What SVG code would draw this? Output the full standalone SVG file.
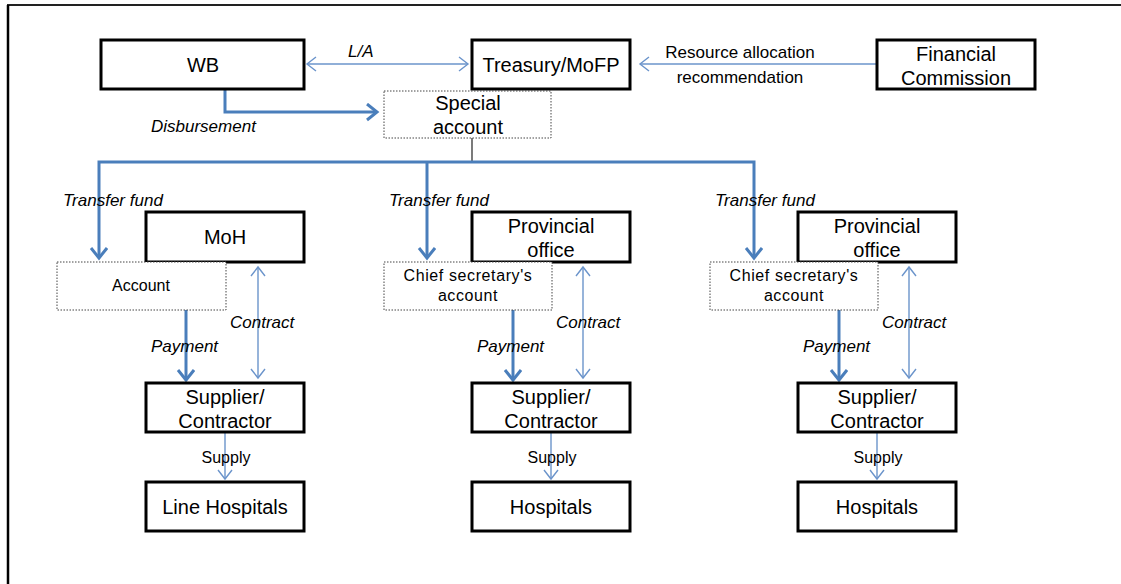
<svg xmlns="http://www.w3.org/2000/svg" width="1121" height="584" viewBox="0 0 1121 584">
<style>
.box{fill:#fff;stroke:#000;stroke-width:3}
.dot{fill:#fff;stroke:#444;stroke-width:1;stroke-dasharray:1.5 1.5}
.t{font-family:"Liberation Sans",Arial,sans-serif;font-size:20px;fill:#000;text-anchor:middle}
.s{font-family:"Liberation Sans",Arial,sans-serif;font-size:16px;fill:#000;text-anchor:middle}
.w{letter-spacing:0.6px}
.r{font-family:"Liberation Sans",Arial,sans-serif;font-size:17px;fill:#000;text-anchor:middle}
.i{font-family:"Liberation Sans",Arial,sans-serif;font-size:17px;font-style:italic;fill:#000}
.thick{fill:none;stroke:#4a7ebb;stroke-width:3;marker-end:url(#ahk)}
.thin{fill:none;stroke:#6b94cb;stroke-width:1.4;marker-end:url(#ahn)}
.both{fill:none;stroke:#6b94cb;stroke-width:1.4;marker-end:url(#ahn);marker-start:url(#ahn)}
</style>
<defs>
<marker id="ahk" markerUnits="userSpaceOnUse" markerWidth="24" markerHeight="24" refX="11" refY="9" orient="auto-start-reverse">
<path d="M1,1 L11,9 L1,17" fill="none" stroke="#4a7ebb" stroke-width="3"/>
</marker>
<marker id="ahn" markerUnits="userSpaceOnUse" markerWidth="24" markerHeight="24" refX="10" refY="8" orient="auto-start-reverse">
<path d="M1,1 L10,8 L1,15" fill="none" stroke="#6b94cb" stroke-width="1.4"/>
</marker>
</defs>
<rect width="1121" height="584" fill="#fff"/>
<g id="frame">
<line x1="7" y1="5" x2="1121" y2="5" stroke="#222" stroke-width="2"/>
<line x1="8" y1="5" x2="8" y2="584" stroke="#000" stroke-width="2.5"/>
</g>
<g id="connectors">
<line class="both" x1="307" y1="64" x2="468" y2="64"/>
<line class="thin" x1="877" y1="64" x2="640" y2="64"/>
<path class="thick" d="M225,89 V112 H377"/>
<line x1="472" y1="138" x2="472" y2="162" stroke="#333" stroke-width="1.3"/>
<path class="thick" d="M754,258 V162 H99 V258" marker-start="url(#ahk)"/>
<line class="thick" x1="427" y1="162" x2="427" y2="258"/>
<line class="thick" x1="186" y1="310" x2="186" y2="380"/>
<line class="thick" x1="513" y1="310" x2="513" y2="380"/>
<line class="thick" x1="839" y1="310" x2="839" y2="380"/>
<line class="both" x1="258" y1="267" x2="258" y2="378"/>
<line class="both" x1="583" y1="267" x2="583" y2="378"/>
<line class="both" x1="909" y1="267" x2="909" y2="378"/>
<line class="thin" x1="225" y1="432" x2="225" y2="479"/>
<line class="thin" x1="551" y1="432" x2="551" y2="479"/>
<line class="thin" x1="877" y1="432" x2="877" y2="479"/>
<text class="i" x="348" y="57">L/A</text>
<text class="r" x="740" y="58">Resource allocation</text>
<text class="r" x="740" y="83">recommendation</text>
<text class="i" x="151" y="132">Disbursement</text>
<text class="i" x="63" y="206">Transfer fund</text>
<text class="i" x="389" y="206">Transfer fund</text>
<text class="i" x="715" y="206">Transfer fund</text>
<text class="i" x="230" y="328">Contract</text>
<text class="i" x="556" y="328">Contract</text>
<text class="i" x="882" y="328">Contract</text>
<text class="i" x="151" y="352">Payment</text>
<text class="i" x="477" y="352">Payment</text>
<text class="i" x="803" y="352">Payment</text>
<text class="s" x="226" y="463">Supply</text>
<text class="s" x="552" y="463">Supply</text>
<text class="s" x="878" y="463">Supply</text>
</g>
<g id="wb"><rect class="box" x="101" y="40" width="203" height="49"/><text class="t" x="203" y="72">WB</text></g>
<g id="treasury"><rect class="box" x="472" y="40" width="158" height="49"/><text class="t" x="551" y="72">Treasury/MoFP</text></g>
<g id="fincom"><rect class="box" x="877" y="40" width="158" height="49"/><text class="t" x="956" y="61">Financial</text><text class="t" x="956" y="85">Commission</text></g>
<g id="special"><rect class="dot" x="384" y="91" width="167" height="47"/><text class="t" x="468" y="110">Special</text><text class="t" x="468" y="134">account</text></g>
<g id="moh"><rect class="box" x="146" y="212" width="158" height="50"/><text class="t" x="225" y="244">MoH</text></g>
<g id="account1"><rect class="dot" x="57" y="262" width="169" height="48"/><text class="s" x="141" y="291">Account</text></g>
<g id="prov2"><rect class="box" x="472" y="212" width="158" height="50"/><text class="t" x="551" y="233">Provincial</text><text class="t" x="551" y="257">office</text></g>
<g id="chief2"><rect class="dot" x="384" y="262" width="168" height="48"/><text class="s w" x="468" y="281">Chief secretary's</text><text class="s w" x="468" y="301">account</text></g>
<g id="prov3"><rect class="box" x="798" y="212" width="158" height="50"/><text class="t" x="877" y="233">Provincial</text><text class="t" x="877" y="257">office</text></g>
<g id="chief3"><rect class="dot" x="710" y="262" width="168" height="48"/><text class="s w" x="794" y="281">Chief secretary's</text><text class="s w" x="794" y="301">account</text></g>
<g id="sup1"><rect class="box" x="146" y="383" width="158" height="49"/><text class="t" x="225" y="404">Supplier/</text><text class="t" x="225" y="428">Contractor</text></g>
<g id="sup2"><rect class="box" x="472" y="383" width="158" height="49"/><text class="t" x="551" y="404">Supplier/</text><text class="t" x="551" y="428">Contractor</text></g>
<g id="sup3"><rect class="box" x="798" y="383" width="158" height="49"/><text class="t" x="877" y="404">Supplier/</text><text class="t" x="877" y="428">Contractor</text></g>
<g id="hosp1"><rect class="box" x="146" y="482" width="158" height="49"/><text class="t" x="225" y="514">Line Hospitals</text></g>
<g id="hosp2"><rect class="box" x="472" y="482" width="158" height="49"/><text class="t" x="551" y="514">Hospitals</text></g>
<g id="hosp3"><rect class="box" x="798" y="482" width="158" height="49"/><text class="t" x="877" y="514">Hospitals</text></g>
</svg>
